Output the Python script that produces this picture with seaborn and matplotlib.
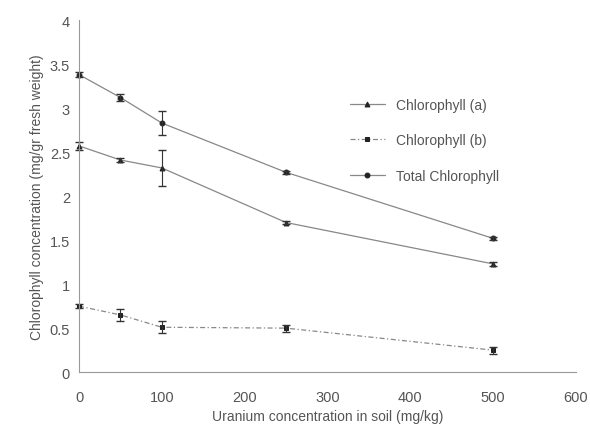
import matplotlib
matplotlib.use("Agg")
import matplotlib.pyplot as plt
import seaborn as sns
import pandas as pd
import numpy as np

sns.set_style("white")
plt.rcParams['font.family'] = ['Liberation Sans', 'DejaVu Sans']

conc = [0, 50, 100, 250, 500]
chl_a = [2.57, 2.41, 2.32, 1.70, 1.23]
chl_a_err = [0.05, 0.02, 0.20, 0.02, 0.02]
chl_b = [0.75, 0.65, 0.51, 0.50, 0.25]
chl_b_err = [0.02, 0.07, 0.07, 0.04, 0.04]
total = [3.38, 3.12, 2.83, 2.27, 1.52]
total_err = [0.03, 0.04, 0.14, 0.02, 0.02]

fig = plt.figure(figsize=(5.9, 4.39), dpi=100)
ax = fig.add_axes([0.134, 0.15, 0.842, 0.802])

tc = '#555555'
lc = '#888888'
series = [
    ("Chlorophyll (a)", chl_a, chl_a_err, '^', '-'),
    ("Chlorophyll (b)", chl_b, chl_b_err, 's', (0, (4, 2, 1, 2))),
    ("Total Chlorophyll", total, total_err, 'o', '-'),
]
for name, vals, err, mk, ls in series:
    df = pd.DataFrame({"x": conc, "y": vals})
    sns.lineplot(data=df, x="x", y="y", ax=ax, color=lc, linewidth=0.9, linestyle=ls,
                 marker=mk, markersize=3.5, markerfacecolor='#222222', markeredgecolor='#222222',
                 label=name, clip_on=False)
    eb = ax.errorbar(conc, vals, yerr=err, fmt='none', ecolor='#333333', elinewidth=0.8, capsize=3)
    for art in eb.lines[1] + eb.lines[2]:
        art.set_clip_on(False)

ax.set_xlim(0, 600)
ax.set_ylim(0, 4)
ax.set_xticks(range(0, 601, 100))
ax.set_yticks(np.arange(0, 4.01, 0.5))
ax.set_yticklabels(['0', '0.5', '1', '1.5', '2', '2.5', '3', '3.5', '4'])
for s in ['top', 'right']:
    ax.spines[s].set_visible(False)
for s in ['left', 'bottom']:
    ax.spines[s].set_color('#999999')
    ax.spines[s].set_linewidth(0.8)
ax.tick_params(axis='both', colors='#999999', labelcolor=tc, labelsize=10.5, length=3, width=0.8, direction='out')
ax.tick_params(axis='x', direction='inout', length=5, pad=10)
ax.set_xlabel("Uranium concentration in soil (mg/kg)", color=tc, fontsize=10)
ax.set_ylabel("Chlorophyll concentration (mg/gr fresh weight)", color=tc, fontsize=10)
leg = ax.legend(loc='upper left', bbox_to_anchor=(0.52, 0.815), frameon=False, fontsize=10,
                labelspacing=1.55, handlelength=2.5)
for t in leg.get_texts():
    t.set_color(tc)
fig.savefig("out.png", dpi=100)
